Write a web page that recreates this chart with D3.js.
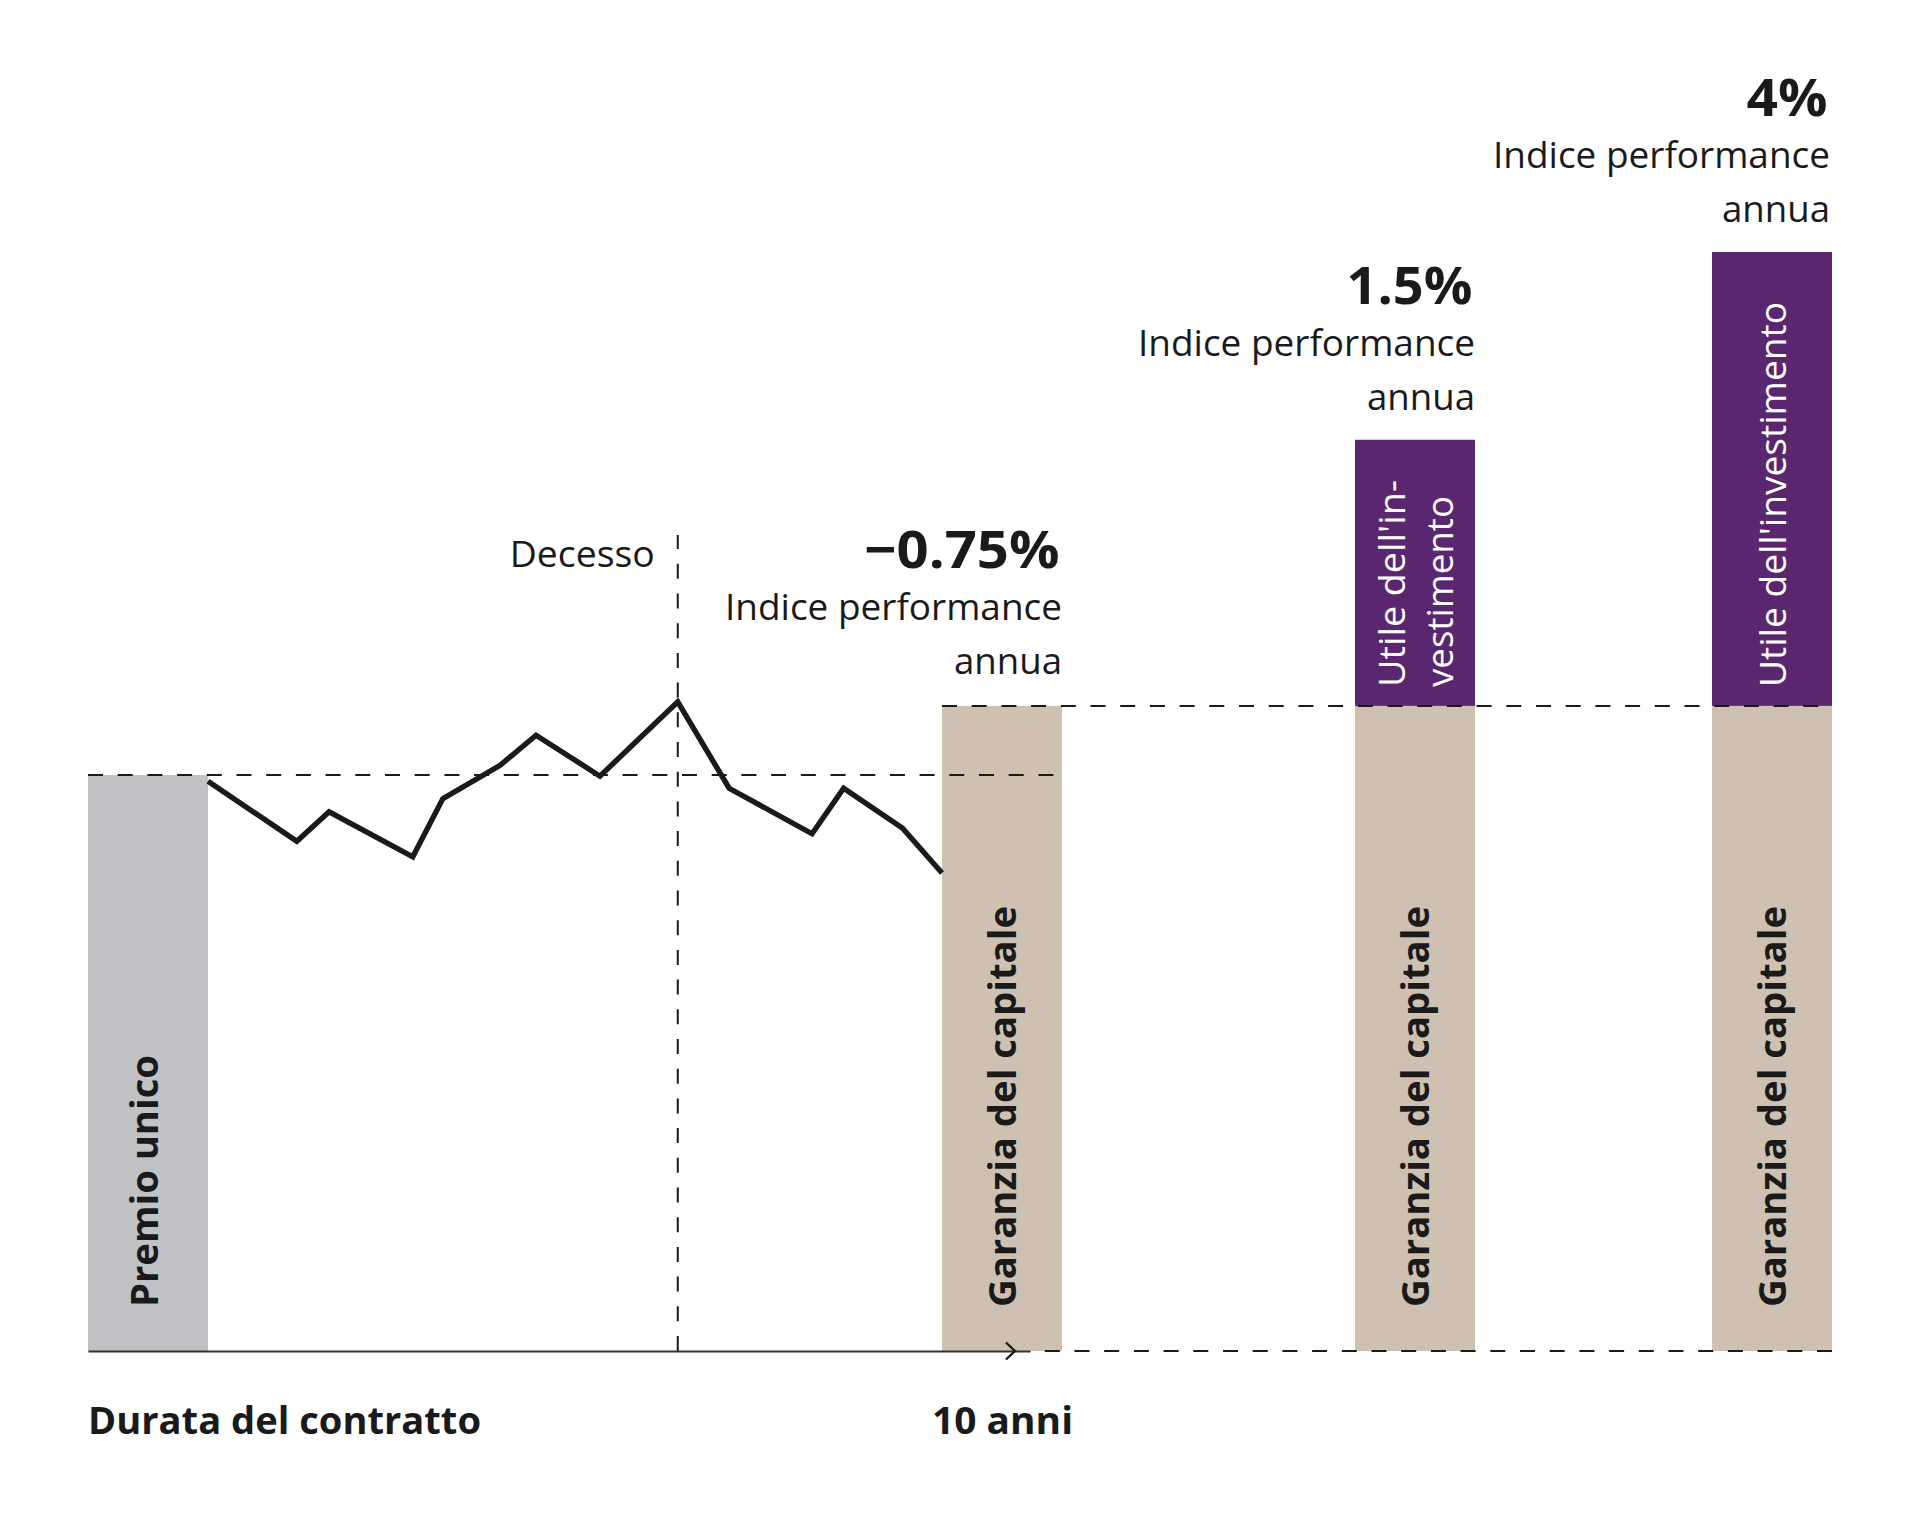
<!DOCTYPE html>
<html lang="it">
<head>
<meta charset="utf-8">
<script src="https://cdn.jsdelivr.net/npm/d3@7"></script>
<style>
html,body{margin:0;padding:0;background:#fff;overflow:hidden}
text{font-family:"Open Sans",sans-serif;fill:#1a1a1a}
</style>
</head>
<body>
<svg id="chart" width="1920" height="1523"></svg>
<script>
// ---- data (vertical unit: single premium = 100) ----
const barCategories = ["premium", "pessimistic", "middle", "optimistic"];
const guaranteeValues = [100, 112, 112, 112];
const profitValues = [0, 0, 46.2, 78.8];
const barLabels = ["Premio unico", "Garanzia del capitale", "Garanzia del capitale", "Garanzia del capitale"];
const profitLabels = [[], [], ["Utile dell'in-", "vestimento"], ["Utile dell'investimento"]];
const performanceLabels = ["", "\u22120.75%", "1.5%", "4%"];
const performanceCaption = ["Indice performance", "annua"];
const pathYears = [0, 1.21, 1.65, 2.79, 3.2, 3.98, 4.47, 5.34, 6.4, 7.1, 8.23, 8.66, 9.46, 10];
const pathValues = [98.9, 88.5, 93.6, 85.8, 95.9, 101.7, 106.9, 99.8, 112.7, 97.7, 89.8, 97.7, 90.8, 83];
const deathYear = 6.4;
const deathLabel = "Decesso";
const axisLabels = ["Durata del contratto", "10 anni"];

// ---- scales ----
const y = d3.scaleLinear().domain([0, 100]).range([1351, 775]);
const x = d3.scaleLinear().domain([0, 10]).range([208, 942]);
const barX = d3.scaleOrdinal(barCategories, [88, 942, 1355, 1712]);
const barW = 120;
const fill = {grey: "#c1c2c5", beige: "#cfc1b1", purple: "#5a2670"};
const dash = "15 14.7";

const svg = d3.select("#chart");

// ---- bars ----
svg.append("g").selectAll("rect").data(barCategories).join("rect")
  .attr("x", d => barX(d)).attr("width", barW)
  .attr("y", (d, i) => y(guaranteeValues[i]))
  .attr("height", (d, i) => y(0) - y(guaranteeValues[i]))
  .attr("fill", (d, i) => i === 0 ? fill.grey : fill.beige);

svg.append("g").selectAll("rect").data(barCategories.filter((d, i) => profitValues[i] > 0)).join("rect")
  .attr("x", d => barX(d)).attr("width", barW)
  .attr("y", d => { const i = barCategories.indexOf(d); return y(guaranteeValues[i] + profitValues[i]); })
  .attr("height", d => { const i = barCategories.indexOf(d); return y(0) - y(profitValues[i]); })
  .attr("fill", fill.purple);

// ---- dashed guides ----
const guides = svg.append("g").attr("stroke", "#1a1a1a").attr("stroke-width", 2).attr("fill", "none");
guides.append("line").attr("x1", barX("premium")).attr("x2", 1056)
  .attr("y1", y(100)).attr("y2", y(100)).attr("stroke-dasharray", dash);
guides.append("line").attr("x1", barX("pessimistic")).attr("x2", barX("optimistic") + barW)
  .attr("y1", y(112)).attr("y2", y(112)).attr("stroke-dasharray", dash);
guides.append("line").attr("x1", barX("optimistic") + barW).attr("x2", 1030)
  .attr("y1", y(0)).attr("y2", y(0)).attr("stroke-dasharray", dash);
guides.append("line").attr("x1", x(deathYear)).attr("x2", x(deathYear))
  .attr("y1", y(0)).attr("y2", 535).attr("stroke-dasharray", dash);

// ---- index path ----
svg.append("path")
  .datum(pathYears.map((t, i) => [t, pathValues[i]]))
  .attr("fill", "none").attr("stroke", "#1a1a1a").attr("stroke-width", 5.4)
  .attr("stroke-linejoin", "miter")
  .attr("d", d3.line().x(d => x(d[0])).y(d => y(d[1])));

// ---- axis ----
const axisX = d3.scaleLinear().domain([x.invert(88), x.invert(1030)]).range([88, 1030]);
const axisG = svg.append("g").attr("transform", `translate(0,${y(0)})`)
  .call(d3.axisBottom(axisX).tickSize(0).tickSizeOuter(0)
    .tickValues([x.invert(87.5), x.invert(1002)])
    .tickFormat((d, i) => axisLabels[i]));
axisG.select(".domain").attr("stroke", "#333").attr("stroke-width", 2);
axisG.selectAll("text")
  .attr("y", 83).attr("dy", 0)
  .style("font-family", '"Open Sans",sans-serif')
  .style("font-size", "37px").style("font-weight", 700)
  .attr("textLength", (d, i) => i === 0 ? 393 : 141)
  .attr("lengthAdjust", "spacingAndGlyphs")
  .attr("fill", "#1a1a1a")
  .attr("text-anchor", (d, i) => i === 0 ? "start" : "middle");

// arrow head
svg.append("path")
  .attr("d", d3.line()([[1006, y(0) - 8.5], [1015, y(0)], [1006, y(0) + 8.5]]))
  .attr("fill", "none").attr("stroke", "#1a1a1a").attr("stroke-width", 2.4);

// ---- death label ----
svg.append("text").text(deathLabel)
  .attr("x", x(deathYear) - 23).attr("y", 567).attr("text-anchor", "end")
  .attr("font-size", 36).attr("textLength", 145).attr("lengthAdjust", "spacingAndGlyphs");

// ---- rotated labels ----
function vertical(px, py, str, size, weight, color, len) {
  svg.append("text").text(str)
    .attr("transform", `translate(${px},${py}) rotate(-90)`)
    .attr("font-size", size).attr("font-weight", weight)
    .attr("textLength", len).attr("lengthAdjust", "spacingAndGlyphs")
    .style("fill", color);
}
const boldLen = [252, 401, 401, 401];
barCategories.forEach((c, i) => {
  vertical(barX(c) + (i === 0 ? 70 : 74), 1307, barLabels[i], 38, 700, "#1a1a1a", boldLen[i]);
});
vertical(barX("middle") + 49.5, 687, profitLabels[2][0], 37, 400, "#fff", 207);
vertical(barX("middle") + 98, 687, profitLabels[2][1], 37, 400, "#fff", 191);
vertical(barX("optimistic") + 74, 687, profitLabels[3][0], 37, 400, "#fff", 385);

// ---- performance annotations ----
const percentLen = [0, 195, 126, 81];
const rightShift = [0, 0, 0, -2];
barCategories.forEach((c, i) => {
  if (!performanceLabels[i]) return;
  const top = y(guaranteeValues[i] + profitValues[i]);
  const right = barX(c) + barW + rightShift[i];
  const shift = i === 1 ? -1.5 : 0;
  svg.append("text").text(performanceLabels[i])
    .attr("x", right - 2.5).attr("y", top - 136 + shift).attr("text-anchor", "end")
    .attr("font-size", 52).attr("font-weight", 700)
    .attr("textLength", percentLen[i]).attr("lengthAdjust", "spacingAndGlyphs");
  performanceCaption.forEach((t, k) => {
    svg.append("text").text(t)
      .attr("x", right).attr("y", top - 84 + k * 54 + shift).attr("text-anchor", "end")
      .attr("font-size", 36)
      .attr("textLength", k === 0 ? 337 : 108).attr("lengthAdjust", "spacingAndGlyphs");
  });
});
</script>
</body>
</html>
